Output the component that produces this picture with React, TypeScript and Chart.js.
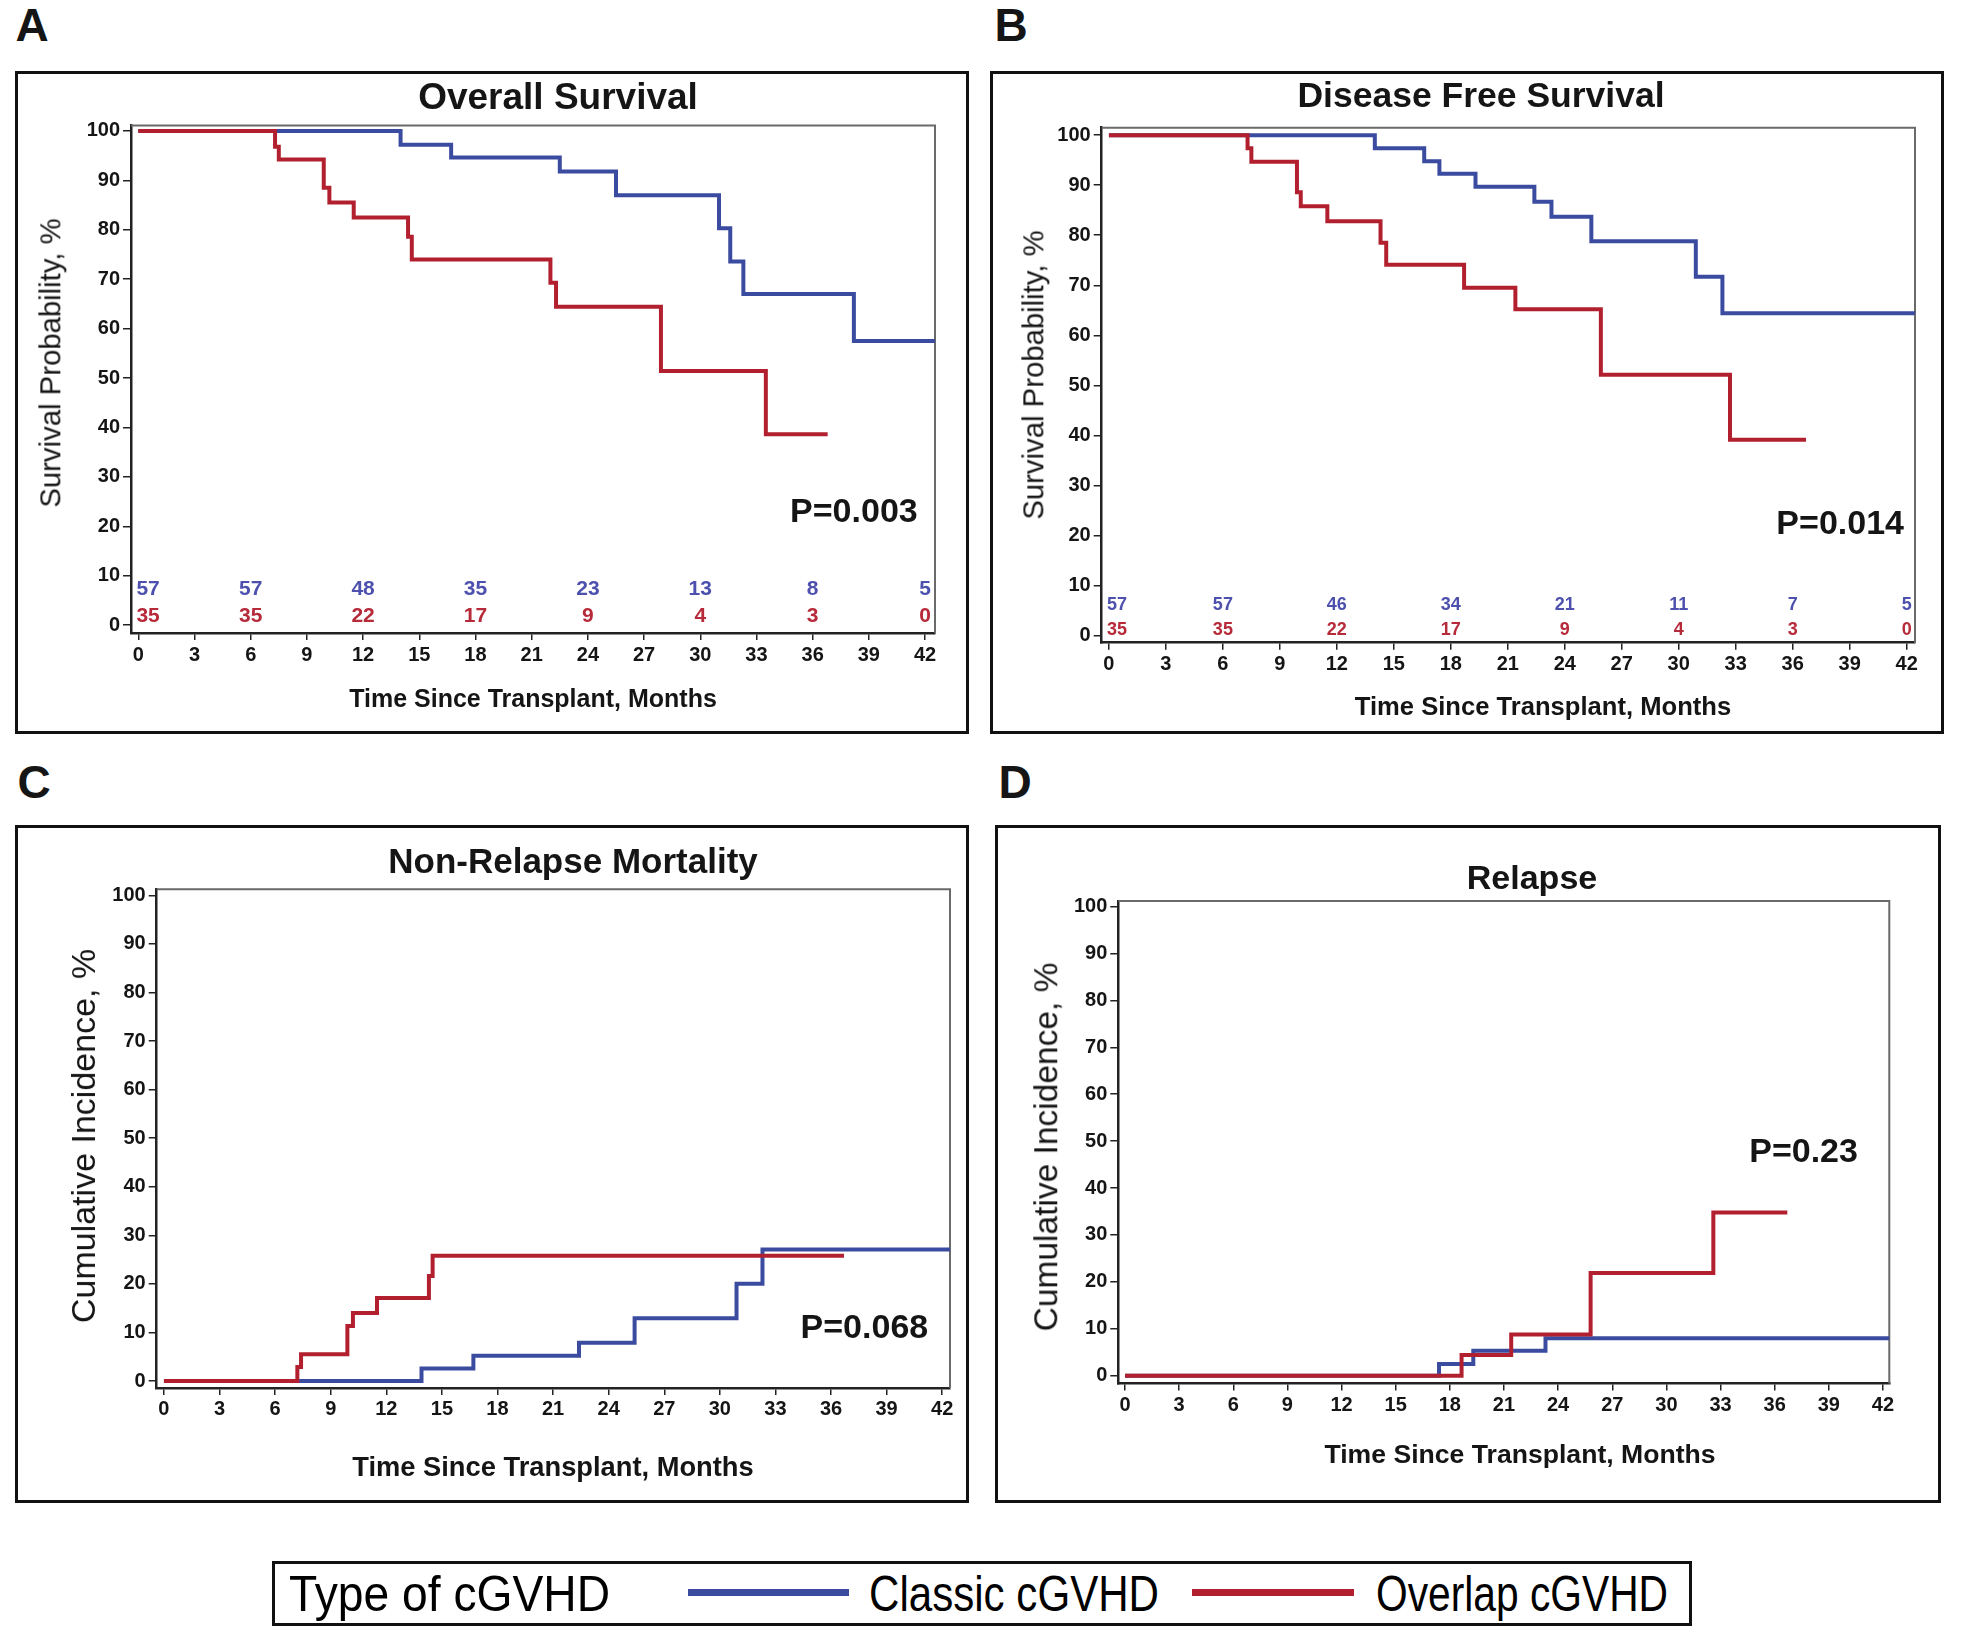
import React, { useEffect, useRef } from "react";
import { Chart, registerables } from "chart.js";

Chart.register(...registerables);

// ---------- data ----------
const monthTicks = [0, 3, 6, 9, 12, 15, 18, 21, 24, 27, 30, 33, 36, 39, 42];
const percentTicks = [0, 10, 20, 30, 40, 50, 60, 70, 80, 90, 100];
const atRiskTimes = [0, 6, 12, 18, 24, 30, 36, 42];

// A: Overall Survival
const osClassicTimes = [0, 14.0, 16.7, 22.5, 25.5, 31.0, 31.6, 32.3, 38.2, 42.6];
const osClassicValues = [100, 97.2, 94.6, 91.8, 87.0, 80.3, 73.6, 67.0, 57.5, 57.5];
const osOverlapTimes = [0, 7.3, 7.5, 9.9, 10.2, 11.5, 14.4, 14.6, 22.0, 22.3, 27.9, 33.5, 36.8];
const osOverlapValues = [100, 96.8, 94.2, 88.5, 85.5, 82.5, 78.6, 74.0, 69.3, 64.4, 51.4, 38.6, 38.6];
const osAtRiskClassic = [57, 57, 48, 35, 23, 13, 8, 5];
const osAtRiskOverlap = [35, 35, 22, 17, 9, 4, 3, 0];

// B: Disease Free Survival
const dfsClassicTimes = [0, 14.0, 16.6, 17.4, 19.3, 22.4, 23.3, 25.4, 30.9, 32.3, 42.5];
const dfsClassicValues = [100, 97.4, 94.8, 92.3, 89.7, 86.7, 83.7, 78.8, 71.7, 64.4, 64.4];
const dfsOverlapTimes = [0, 7.3, 7.5, 9.9, 10.1, 11.5, 14.3, 14.6, 18.7, 21.4, 25.9, 32.7, 36.7];
const dfsOverlapValues = [100, 97.4, 94.7, 88.6, 85.8, 82.8, 78.5, 74.1, 69.5, 65.2, 52.1, 39.1, 39.1];
const dfsAtRiskClassic = [57, 57, 46, 34, 21, 11, 7, 5];
const dfsAtRiskOverlap = [35, 35, 22, 17, 9, 4, 3, 0];

// C: Non-Relapse Mortality
const nrmClassicTimes = [0, 13.9, 16.7, 22.4, 25.4, 30.9, 32.3, 42.5];
const nrmClassicValues = [0, 2.6, 5.2, 7.9, 12.9, 20.0, 27.1, 27.1];
const nrmOverlapTimes = [0, 7.2, 7.4, 9.9, 10.2, 11.5, 14.3, 14.5, 36.7];
const nrmOverlapValues = [0, 2.9, 5.5, 11.3, 14.0, 17.1, 21.6, 25.8, 25.8];

// D: Relapse
const relClassicTimes = [0, 17.4, 19.3, 23.3, 42.4];
const relClassicValues = [0, 2.5, 5.3, 8.0, 8.0];
const relOverlapTimes = [0, 18.65, 21.4, 25.8, 32.6, 36.7];
const relOverlapValues = [0, 4.4, 8.8, 21.9, 34.8, 34.8];

// ---------- styles ----------
const FONT = "'Liberation Sans', Arial, Helvetica, sans-serif";
const BLUE = "#3b4ca0";
const RED = "#b2202f";
const BLUE_TXT = "#4d51ad";
const RED_TXT = "#b72a3a";
const INK = "#151515";
const BORDER = 3;

type Box = { x: number; y: number; w: number; h: number };
type Frame = { l: number; t: number; r: number; b: number };
type AtRisk = { classic: number[]; overlap: number[]; classicY: number; overlapY: number; size: number };
type PanelCfg = {
  box: Box;
  frame: Frame;
  xMin: number; xMax: number; yMin: number; yMax: number;
  classicT: number[]; classicV: number[];
  overlapT: number[]; overlapV: number[];
  pText: string; pX: number; pY: number;
  atRisk?: AtRisk;
};

type TextItem = { text: string; x: number; y: number; color: string; size: number; align: CanvasTextAlign; weight: string };

function makePlugin(items: TextItem[]) {
  return {
    id: "kmDecor",
    beforeDatasetsDraw(chart: any) {
      const { ctx, chartArea } = chart;
      ctx.save();
      ctx.strokeStyle = "#6a6a6a";
      ctx.lineWidth = 2;
      ctx.beginPath();
      ctx.moveTo(chartArea.left, chartArea.top);
      ctx.lineTo(chartArea.right, chartArea.top);
      ctx.lineTo(chartArea.right, chartArea.bottom);
      ctx.stroke();
      ctx.restore();
    },
    afterDatasetsDraw(chart: any) {
      const { ctx } = chart;
      const xs = chart.scales.x;
      const ys = chart.scales.y;
      ctx.save();
      for (const it of items) {
        ctx.font = `${it.weight} ${it.size}px ${FONT}`;
        ctx.fillStyle = it.color;
        ctx.textAlign = it.align;
        ctx.textBaseline = "middle";
        ctx.fillText(it.text, xs.getPixelForValue(it.x), ys.getPixelForValue(it.y));
      }
      ctx.restore();
    },
  };
}

function Panel({ cfg }: { cfg: PanelCfg }) {
  const ref = useRef<HTMLCanvasElement>(null);
  const cx = cfg.box.x + BORDER;
  const cy = cfg.box.y + BORDER;
  const cw = cfg.box.w - 2 * BORDER;
  const ch = cfg.box.h - 2 * BORDER;

  useEffect(() => {
    const canvas = ref.current!;
    const padTop = cfg.frame.t - cy;
    const padRight = cx + cw - cfg.frame.r;
    const yW = cfg.frame.l - cx;
    const xH = cy + ch - cfg.frame.b;

    const items: TextItem[] = [];
    if (cfg.atRisk) {
      const ar = cfg.atRisk;
      atRiskTimes.forEach((t, i) => {
        const align: CanvasTextAlign = i === 0 ? "left" : "center";
        const xx = i === 0 ? t - 0.1 : t;
        items.push({ text: String(ar.classic[i]), x: xx, y: ar.classicY, color: BLUE_TXT, size: ar.size, align, weight: "bold" });
        items.push({ text: String(ar.overlap[i]), x: xx, y: ar.overlapY, color: RED_TXT, size: ar.size, align, weight: "bold" });
      });
    }
    items.push({ text: cfg.pText, x: cfg.pX, y: cfg.pY, color: INK, size: 34, align: "center", weight: "bold" });

    const tickFont = { family: FONT, size: 20, weight: "bold" as const };
    const chart = new Chart(canvas, {
      type: "line",
      data: {
        datasets: [
          {
            label: "Overlap cGVHD",
            data: cfg.overlapT.map((t, i) => ({ x: t, y: cfg.overlapV[i] })),
            borderColor: RED,
            backgroundColor: RED,
            borderWidth: 4,
            stepped: "before",
            pointRadius: 0,
            fill: false,
            order: 0,
          },
          {
            label: "Classic cGVHD",
            data: cfg.classicT.map((t, i) => ({ x: t, y: cfg.classicV[i] })),
            borderColor: BLUE,
            backgroundColor: BLUE,
            borderWidth: 4,
            stepped: "before",
            pointRadius: 0,
            fill: false,
            order: 1,
          },
        ],
      },
      options: {
        animation: false,
        responsive: false,
        maintainAspectRatio: false,
        layout: { padding: { top: padTop, right: padRight, left: 0, bottom: 0 } },
        plugins: { legend: { display: false }, title: { display: false }, tooltip: { enabled: false } },
        scales: {
          x: {
            type: "linear",
            min: cfg.xMin,
            max: cfg.xMax,
            afterBuildTicks: (s: any) => { s.ticks = monthTicks.map((v) => ({ value: v })); },
            afterFit: (s: any) => { s.height = xH; },
            ticks: { font: tickFont, color: INK, padding: 3, maxRotation: 0, autoSkip: false, callback: (v: any) => String(v) },
            grid: { display: true, drawOnChartArea: false, drawTicks: true, tickLength: 7, color: "#222", lineWidth: 1.5 },
            border: { display: true, color: "#222", width: 2.5 },
          },
          y: {
            type: "linear",
            min: cfg.yMin,
            max: cfg.yMax,
            afterBuildTicks: (s: any) => { s.ticks = percentTicks.map((v) => ({ value: v })); },
            afterFit: (s: any) => { s.width = yW; },
            ticks: { font: tickFont, color: INK, padding: 3, autoSkip: false, callback: (v: any) => String(v) },
            grid: { display: true, drawOnChartArea: false, drawTicks: true, tickLength: 8, color: "#222", lineWidth: 1.5 },
            border: { display: true, color: "#222", width: 2.5 },
          },
        },
      } as any,
      plugins: [makePlugin(items)],
    });
    return () => chart.destroy();
  }, []);

  return (
    <>
      <div
        style={{
          position: "absolute",
          left: cfg.box.x,
          top: cfg.box.y,
          width: cfg.box.w,
          height: cfg.box.h,
          boxSizing: "border-box",
          border: `${BORDER}px solid #111`,
          background: "#fff",
        }}
      />
      <canvas ref={ref} width={cw} height={ch} style={{ position: "absolute", left: cx, top: cy, width: cw, height: ch }} />
    </>
  );
}

function Label({ text, x, y, size, weight = "bold", rotate = false }: { text: string; x: number; y: number; size: number; weight?: string; rotate?: boolean }) {
  return (
    <div
      style={{
        position: "absolute",
        left: x,
        top: y,
        transform: `translate(-50%, -50%)${rotate ? " rotate(-90deg)" : ""}`,
        fontFamily: FONT,
        fontSize: size,
        fontWeight: weight as any,
        lineHeight: 1,
        whiteSpace: "nowrap",
        color: INK,
      }}
    >
      {text}
    </div>
  );
}

// condensed legend text: squeeze regular Liberation Sans to the target width
const LEGEND_SIZE = 50;
function measure(text: string, size: number): number {
  const c = document.createElement("canvas").getContext("2d");
  if (!c) return text.length * size * 0.55;
  c.font = `${size}px ${FONT}`;
  return c.measureText(text).width;
}
function LegendText({ text, left, width }: { text: string; left: number; width: number }) {
  const w = measure(text, LEGEND_SIZE);
  const s = w > 0 ? width / w : 1;
  return (
    <div
      style={{
        position: "absolute",
        left,
        top: 1594,
        transform: `translateY(-50%) scaleX(${s})`,
        transformOrigin: "left center",
        fontFamily: FONT,
        fontSize: LEGEND_SIZE,
        lineHeight: 1,
        whiteSpace: "nowrap",
        color: "#000",
      }}
    >
      {text}
    </div>
  );
}

const panelA: PanelCfg = {
  box: { x: 15, y: 71, w: 954, h: 663 },
  frame: { l: 131, t: 125.5, r: 935, b: 633 },
  xMin: -0.39, xMax: 42.53, yMin: -1.6, yMax: 101.1,
  classicT: osClassicTimes, classicV: osClassicValues,
  overlapT: osOverlapTimes, overlapV: osOverlapValues,
  pText: "P=0.003", pX: 38.2, pY: 22.7,
  atRisk: { classic: osAtRiskClassic, overlap: osAtRiskOverlap, classicY: 7.2, overlapY: 1.9, size: 21 },
};
const panelB: PanelCfg = {
  box: { x: 990, y: 71, w: 954, h: 663 },
  frame: { l: 1101.7, t: 127.7, r: 1915, b: 642.7 },
  xMin: -0.38, xMax: 42.44, yMin: -1.46, yMax: 101.5,
  classicT: dfsClassicTimes, classicV: dfsClassicValues,
  overlapT: dfsOverlapTimes, overlapV: dfsOverlapValues,
  pText: "P=0.014", pX: 38.5, pY: 22.1,
  atRisk: { classic: dfsAtRiskClassic, overlap: dfsAtRiskOverlap, classicY: 6.0, overlapY: 1.0, size: 18 },
};
const panelC: PanelCfg = {
  box: { x: 15, y: 825, w: 954, h: 678 },
  frame: { l: 156.7, t: 889.2, r: 950, b: 1387.9 },
  xMin: -0.39, xMax: 42.42, yMin: -1.42, yMax: 101.26,
  classicT: nrmClassicTimes, classicV: nrmClassicValues,
  overlapT: nrmOverlapTimes, overlapV: nrmOverlapValues,
  pText: "P=0.068", pX: 37.8, pY: 10.7,
};
const panelD: PanelCfg = {
  box: { x: 995, y: 825, w: 946, h: 678 },
  frame: { l: 1118.3, t: 900.9, r: 1889.3, b: 1383.6 },
  xMin: -0.37, xMax: 42.35, yMin: -1.68, yMax: 101.2,
  classicT: relClassicTimes, classicV: relClassicValues,
  overlapT: relOverlapTimes, overlapV: relOverlapValues,
  pText: "P=0.23", pX: 37.6, pY: 47.5,
};

export default function App() {
  return (
    <div style={{ position: "absolute", left: 0, top: 0, width: 1961, height: 1633, background: "#fff", overflow: "hidden" }}>
      <Panel cfg={panelA} />
      <Panel cfg={panelB} />
      <Panel cfg={panelC} />
      <Panel cfg={panelD} />

      <Label text="A" x={32} y={25} size={46} />
      <Label text="B" x={1011} y={25} size={46} />
      <Label text="C" x={34} y={782} size={46} />
      <Label text="D" x={1015} y={782} size={46} />

      <Label text="Overall Survival" x={558} y={96} size={37} />
      <Label text="Disease Free Survival" x={1481} y={96} size={35.5} />
      <Label text="Non-Relapse Mortality" x={573} y={860} size={35} />
      <Label text="Relapse" x={1532} y={877} size={34} />

      <Label text="Survival Probability, %" x={50} y={363} size={29.3} weight="normal" rotate />
      <Label text="Survival Probability, %" x={1033} y={375} size={29.3} weight="normal" rotate />
      <Label text="Cumulative Incidence, %" x={83} y={1136} size={34} weight="normal" rotate />
      <Label text="Cumulative Incidence, %" x={1046} y={1147} size={33.5} weight="normal" rotate />

      <Label text="Time Since Transplant, Months" x={533} y={698} size={25} />
      <Label text="Time Since Transplant, Months" x={1543} y={707} size={25.6} />
      <Label text="Time Since Transplant, Months" x={553} y={1467} size={27.3} />
      <Label text="Time Since Transplant, Months" x={1520} y={1454} size={26.6} />

      <div
        style={{
          position: "absolute",
          left: 272,
          top: 1561,
          width: 1420,
          height: 65,
          boxSizing: "border-box",
          border: "3px solid #111",
          background: "#fff",
        }}
      />
      <LegendText text="Type of cGVHD" left={289} width={321} />
      <div style={{ position: "absolute", left: 688, top: 1589, width: 161, height: 7, background: BLUE }} />
      <LegendText text="Classic cGVHD" left={869} width={290} />
      <div style={{ position: "absolute", left: 1192, top: 1589, width: 162, height: 7, background: RED }} />
      <LegendText text="Overlap cGVHD" left={1376} width={292} />
    </div>
  );
}
